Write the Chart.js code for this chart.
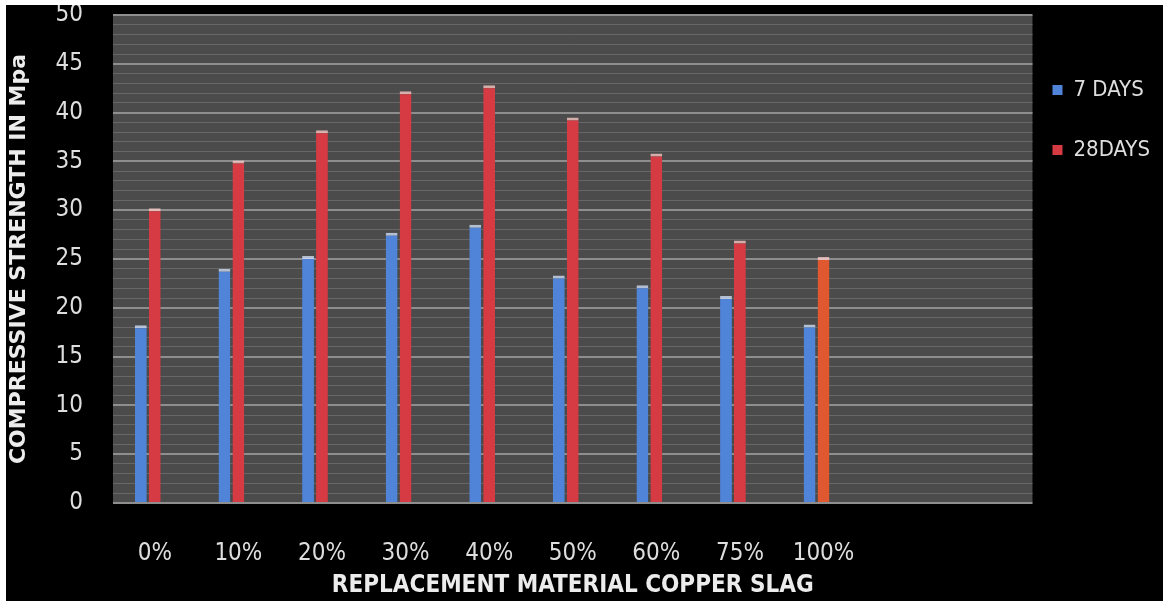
<!DOCTYPE html>
<html>
<head>
<meta charset="utf-8">
<title>Compressive strength – copper slag replacement</title>
<script src="https://cdn.jsdelivr.net/npm/chart.js@4/dist/chart.umd.min.js"></script>
<style>
  html, body { margin: 0; padding: 0; background: #ffffff; }
  #wrap { position: absolute; left: 6px; top: 5px; width: 1157px; height: 596px; background: #000000; }
</style>
</head>
<body>
<div id="wrap"><canvas id="chart"></canvas></div>
<script>
// Replacement levels of copper slag (two trailing empty slots on the axis)
const categories = ['0%', '10%', '20%', '30%', '40%', '50%', '60%', '75%', '100%', '', ''];

// Compressive strength (MPa)
const days7  = [18.2, 24.0, 25.3, 27.7, 28.5, 23.3, 22.3, 21.2, 18.3];
const days28 = [30.2, 35.1, 38.2, 42.2, 42.8, 39.5, 35.8, 26.9, 25.2];

const seriesNames = ['7 DAYS', '28DAYS'];

// Value axis
const yMin = 0;
const yMax = 50;
const yMajorStep = 5;
const yMinorStep = 1;

// Styling
const BLUE = '#4f84d8';
const RED = '#d63a42';
const ORANGE = '#e0582f';
const PLOT_BG = '#4b4b4b';
const GRID_MINOR = '#676767';
const GRID_MAJOR = '#8e8e8e';
const TEXT = '#dedede';
const COND = "'DejaVu Sans Condensed', 'Liberation Sans Narrow', 'DejaVu Sans', sans-serif";
const WIDE = "'DejaVu Sans', sans-serif";

const redShades = days28.map((_, i) => (i === days28.length - 1 ? ORANGE : RED));

// Fills the plotting area with the dark grey panel
const plotPanel = {
  id: 'plotPanel',
  beforeDraw(chart) {
    const { ctx, chartArea: a } = chart;
    ctx.save();
    ctx.fillStyle = PLOT_BG;
    ctx.fillRect(a.left, a.top, a.right - a.left, a.bottom - a.top);
    ctx.restore();
  }
};

const barTop = { top: 3, left: 0, right: 0, bottom: 0 };

new Chart(document.getElementById('chart'), {
  type: 'bar',
  data: {
    labels: categories,
    datasets: [
      { label: seriesNames[0], data: days7, backgroundColor: BLUE,
        borderColor: 'rgba(215,230,255,0.75)', borderWidth: barTop },
      { label: seriesNames[1], data: days28, backgroundColor: redShades,
        borderColor: 'rgba(255,205,200,0.75)', borderWidth: barTop },
      // unused third slot in each group, as in the original spreadsheet layout
      { label: '', data: [], backgroundColor: 'rgba(0,0,0,0)' }
    ]
  },
  options: {
    responsive: true,
    maintainAspectRatio: false,
    animation: false,
    datasets: { bar: { categoryPercentage: 0.5, barPercentage: 0.85 } },
    layout: { padding: { top: 10, right: 3, bottom: 0, left: 0 } },
    plugins: {
      tooltip: { enabled: false },
      legend: {
        position: 'right',
        align: 'start',
        title: { display: true, text: '', font: { size: 20, lineHeight: 1 }, padding: { top: 24, bottom: 0 } },
        labels: {
          color: TEXT,
          font: { family: COND, size: 22, lineHeight: 40 / 22 },
          boxWidth: 10,
          boxHeight: 10,
          padding: 20,
          generateLabels(chart) {
            const fills = [BLUE, RED];
            return seriesNames.map((name, i) => ({
              text: [name],
              fillStyle: fills[i],
              strokeStyle: fills[i],
              lineWidth: 0,
              hidden: !chart.isDatasetVisible(i),
              datasetIndex: i,
              fontColor: TEXT
            }));
          }
        }
      }
    },
    scales: {
      x: {
        grid: { display: false, drawTicks: false },
        border: { display: false },
        ticks: {
          color: TEXT,
          font: { family: COND, size: 24, lineHeight: 1.2 },
          padding: 36,
          maxRotation: 0,
          autoSkip: false
        },
        title: {
          display: true,
          text: 'REPLACEMENT MATERIAL COPPER SLAG',
          color: '#ececec',
          font: { family: COND, size: 24, weight: 'bold', lineHeight: 1 },
          padding: { top: 0, bottom: 3 }
        },
        afterFit(scale) {
          scale.height = 98;
          scale.paddingLeft = 0;
          scale.paddingRight = 0;
        }
      },
      y: {
        min: yMin,
        max: yMax,
        grid: {
          drawTicks: false,
          color: (c) => (c.tick && c.tick.value % yMajorStep === 0 ? GRID_MAJOR : GRID_MINOR),
          lineWidth: (c) => (c.tick && c.tick.value % yMajorStep === 0 ? 2 : 1)
        },
        border: { display: false },
        ticks: {
          stepSize: yMinorStep,
          autoSkip: false,
          color: TEXT,
          font: { family: COND, size: 24, lineHeight: 1.2 },
          padding: 30,
          callback: (v) => (v % yMajorStep === 0 ? String(v) : '')
        },
        title: {
          display: true,
          text: 'COMPRESSIVE STRENGTH IN Mpa',
          color: '#ececec',
          font: { family: WIDE, size: 22, weight: 'bold', lineHeight: 1 },
          padding: { top: 2, bottom: 0 }
        },
        afterFit(scale) {
          scale.width = 107;
          scale.paddingTop = 0;
          scale.paddingBottom = 0;
        }
      }
    }
  },
  plugins: [plotPanel]
});
</script>
</body>
</html>
